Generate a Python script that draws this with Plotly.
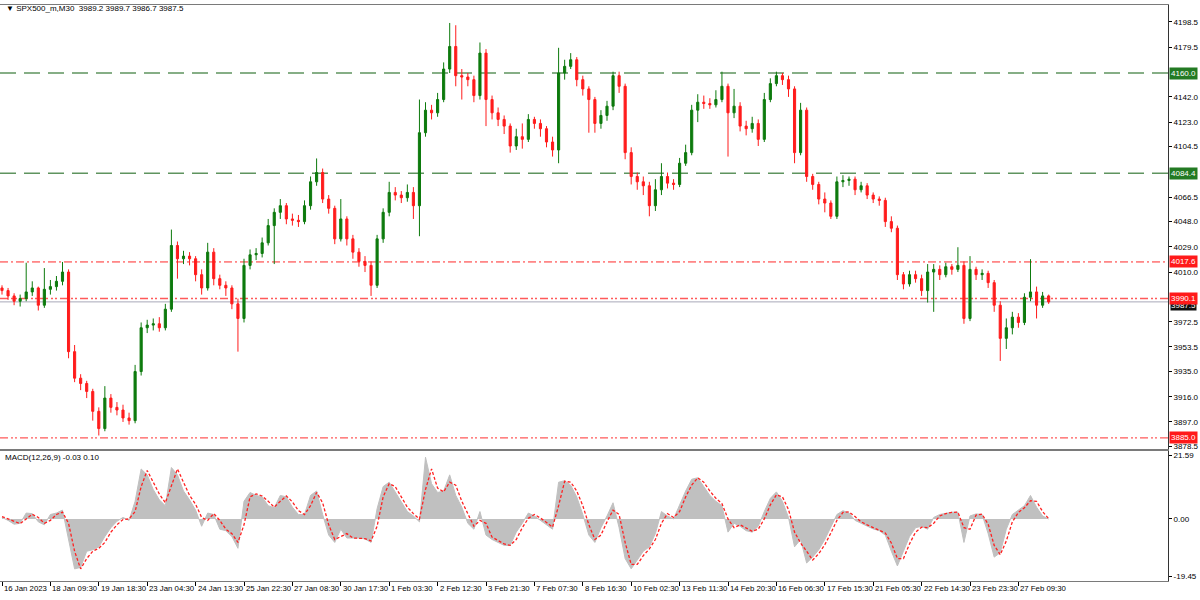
import plotly.graph_objects as go

symbol_title = "\u25BC SPX500_m,M30  3989.2 3989.7 3986.7 3987.5"
macd_title = "MACD(12,26,9) -0.03 0.10"

first_open = 3998
close = [3996, 3992, 3988, 3990, 3995, 3998, 3985, 3997, 3999, 4003,
         4010, 3950, 3930, 3926, 3920, 3905, 3892, 3915, 3908, 3906,
         3900, 3898, 3935, 3968, 3970, 3971, 3968, 3982, 4030, 4020,
         4022, 4020, 4008, 3998, 4025, 4005, 4000, 3998, 3986, 3975,
         4015, 4023, 4024, 4032, 4045, 4055, 4060, 4050, 4049, 4048,
         4060, 4078, 4085, 4065, 4058, 4035, 4050, 4035, 4025, 4018,
         4015, 4000, 4035, 4055, 4070, 4068, 4066, 4070, 4060, 4115,
         4132, 4130, 4140, 4163, 4180, 4158, 4157, 4155, 4143, 4175,
         4140, 4130, 4125, 4120, 4105, 4112, 4110, 4125, 4122, 4118,
         4108, 4102, 4160, 4165, 4170, 4155, 4148, 4140, 4122, 4128,
         4135, 4158, 4150, 4100, 4082, 4078, 4075, 4060, 4072, 4082,
         4077, 4076, 4092, 4100, 4132, 4138, 4137, 4136, 4140, 4150,
         4130, 4135, 4120, 4118, 4122, 4110, 4140, 4152, 4158, 4155,
         4148, 4100, 4132, 4082, 4076, 4065, 4062, 4052, 4078, 4079,
         4080, 4072, 4075, 4068, 4065, 4064, 4048, 4043, 4008, 4001,
         4008, 4005, 3996, 4010, 4012, 4008, 4014, 4012, 4015, 3975,
         4012, 4008, 4009, 4002, 3985, 3960, 3968, 3976, 3972, 3991,
         3995, 3985, 3992, 3987.5]
high = [4000, 3998, 3994, 3993, 4017, 4003, 3999, 4013, 4004, 4007,
        4017.6, 4012, 3955, 3933, 3928, 3922, 3908, 3924, 3918, 3912,
        3910, 3904, 3940, 3972, 3974, 3975, 3976, 3986, 4042, 4033,
        4026, 4025, 4022, 4012, 4032, 4028, 4008, 4003, 4000, 3990,
        4020, 4027, 4028, 4036, 4050, 4058, 4065, 4062, 4054, 4053,
        4064, 4082, 4095.6, 4088, 4068, 4060, 4065, 4052, 4038, 4028,
        4022, 4018, 4038, 4058, 4078, 4074, 4071, 4076, 4074, 4140,
        4138, 4136, 4145, 4168, 4197.7, 4196, 4163, 4160, 4158, 4183,
        4178, 4143, 4134, 4128, 4122, 4118, 4122, 4129, 4127, 4125,
        4120, 4112, 4179, 4170, 4175, 4172, 4158, 4150, 4142, 4132,
        4139, 4161, 4161, 4152, 4104, 4085, 4082, 4078, 4080, 4092,
        4085, 4080, 4096, 4106, 4136, 4144, 4143, 4141, 4147, 4161,
        4152, 4148, 4138, 4124, 4127, 4125, 4145, 4156, 4161, 4160,
        4158, 4150, 4137.5, 4134, 4084, 4078, 4070, 4064, 4082, 4083,
        4082, 4082, 4078, 4077, 4070, 4067, 4066, 4052, 4045, 4010,
        4011, 4011, 4008, 4016, 4016, 4015, 4017, 4016, 4028.7, 4018,
        4022, 4014, 4012, 4011, 4004, 3988, 3975, 3980, 3979, 3994,
        4019.7, 3999, 3995, 3993]
low = [3993, 3989, 3985, 3984, 3988, 3992, 3981, 3983, 3993, 3996,
       4000, 3945, 3927, 3921, 3915, 3898, 3886.8, 3890, 3904, 3902,
       3897, 3895, 3896, 3932, 3964, 3966, 3965, 3966, 3980, 4005,
       4016, 4015, 4003, 3993, 3996, 4000, 3997, 3992, 3982, 3950,
       3972, 4012, 4019, 4021, 4030, 4016, 4050, 4046, 4045, 4044,
       4046, 4057, 4075, 4062, 4054, 4031, 4033, 4030, 4020, 4014,
       4010, 3992, 3998, 4032, 4052, 4064, 4062, 4063, 4050, 4037,
       4112, 4125, 4127, 4138, 4160, 4150, 4140, 4150, 4138, 4140,
       4120, 4125, 4120, 4114, 4100, 4102, 4103, 4108, 4118, 4112,
       4104, 4097, 4092, 4155, 4163, 4150, 4143, 4115, 4115, 4118,
       4124, 4132, 4145, 4095, 4076, 4072, 4068, 4052, 4056, 4068,
       4073, 4072, 4074, 4090, 4098, 4123, 4133, 4133, 4134, 4138,
       4097, 4126, 4116, 4113, 4115, 4105, 4108, 4138, 4150, 4151,
       4142, 4092, 4098, 4078, 4072, 4061, 4055, 4050, 4050, 4074,
       4075, 4068, 4070, 4065, 4062, 4060, 4044, 4040, 4004, 3997,
       3999, 4002, 3992, 3987, 3980, 4004, 4006, 4008, 4010, 3971,
       3973, 4004, 4004, 3998, 3980, 3943, 3952, 3963, 3968, 3970,
       3988, 3975, 3983, 3986]

macd_main = [0.5, -0.5, -1.8, -1.5, 2.0, 1.8, -1.0, -2.0, 1.5, 2.0,
             3.0, -7.0, -17.0, -16.5, -11.0, -10.5, -9.5, -6.0, -3.0, -0.8,
             0.5, -0.5, 6.0, 17.0, 15.0, 10.0, 6.5, 4.5, 17.5, 15.0,
             9.5, 6.5, 3.0, -2.5, 2.0, 1.5, -3.5, -4.0, -6.0, -10.0,
             6.0, 9.0, 8.0, 7.5, 4.5, 3.8, 8.0, 7.5, 4.0, 1.5,
             1.5, 8.0, 9.5, 1.5, -5.5, -8.0, -3.5, -6.5, -6.5, -6.5,
             -6.8, -8.0, 3.5, 11.0, 12.5, 9.0, 5.5, 2.5, 1.0, -1.0,
             21.0, 12.0, 9.0, 9.5, 15.0, 8.0, 4.0, -1.5, -3.5, 2.5,
             -5.5, -7.0, -8.0, -9.0, -9.0, -4.5, -1.5, 2.0, 1.0, -0.5,
             -2.0, -3.5, 12.5, 13.0, 11.5, 7.5, 1.5, -5.5, -8.0, -3.0,
             1.0, 5.5, -3.0, -13.5, -17.0, -14.0, -11.0, -9.5, -5.0, 2.5,
             1.0, 0.0, 5.0, 9.5, 13.5, 14.0, 11.0, 8.0, 6.0, 4.5,
             -4.5, -1.5, -2.5, -4.0, -4.5, -2.5, 2.5, 7.0, 9.2, 6.0,
             0.5, -9.5, -7.0, -15.0, -13.0, -10.5, -7.0, -2.5, 1.5, 2.8,
             2.0, -0.5, -1.5, -2.3, -3.4, -4.0, -5.5, -11.0, -16.0, -11.0,
             -6.0, -3.0, -2.5, -3.5, 0.5, 1.5, 2.0, 2.3, 2.3, -8.0,
             1.0, 1.7, 1.5, -5.0, -13.0, -11.5, -3.5, 1.5, 3.0, 4.5,
             8.0, 4.0, 1.0, -0.03]
macd_signal = [0.8, 0.0, -1.0, -1.6, 0.0, 1.6, 0.5, -1.5, -0.5, 1.5,
               2.3, -1.5, -11.0, -17.0, -13.5, -11.0, -10.0, -8.0, -4.5, -2.0,
               -0.2, 0.0, 2.5, 11.0, 16.5, 12.5, 8.5, 5.5, 11.0, 17.0,
               12.5, 8.0, 5.0, 0.5, -0.5, 1.8, -0.5, -3.5, -5.0, -8.0,
               -2.0, 7.5, 8.5, 7.8, 6.0, 4.0, 6.0, 7.8, 5.8, 2.8,
               1.5, 4.5, 9.0, 5.5, -2.0, -7.0, -6.0, -5.0, -6.5, -6.5,
               -6.7, -7.5, -2.5, 7.5, 12.0, 11.0, 7.5, 4.0, 1.8, 0.0,
               10.0, 17.0, 10.5, 9.2, 12.5, 11.5, 6.0, 1.5, -2.5, -0.5,
               -1.5, -6.2, -7.5, -8.5, -9.0, -7.0, -3.0, 0.2, 1.5, 0.3,
               -1.2, -2.8, 4.5, 12.8, 12.5, 9.5, 4.5, -2.0, -7.0, -5.5,
               -1.0, 3.0, 1.5, -8.0, -15.5, -15.5, -12.5, -10.2, -7.0, -1.5,
               1.8, 0.5, 2.5, 7.5, 11.5, 14.0, 12.5, 9.5, 7.0, 5.2,
               0.0, -3.0, -2.0, -3.2, -4.2, -3.5, 0.0, 4.8, 8.2, 7.5,
               3.2, -4.5, -8.2, -11.0, -14.0, -11.8, -8.8, -4.8, -0.5, 2.2,
               2.4, 0.8, -1.0, -2.0, -2.9, -3.7, -4.8, -8.2, -13.5, -13.5,
               -8.5, -4.5, -2.8, -3.0, -1.5, 1.0, 1.8, 2.2, 2.3, -3.0,
               -3.5, 1.3, 1.6, -1.8, -9.0, -12.2, -7.5, -1.0, 2.2, 3.8,
               6.2, 6.0, 2.5, 0.10]

date_labels = ["16 Jan 2023", "18 Jan 09:30", "19 Jan 18:30", "23 Jan 04:30",
               "24 Jan 13:30", "25 Jan 22:30", "27 Jan 08:30", "30 Jan 17:30",
               "1 Feb 03:30", "2 Feb 12:30", "3 Feb 21:30", "7 Feb 07:30",
               "8 Feb 16:30", "10 Feb 02:30", "13 Feb 11:30", "14 Feb 20:30",
               "16 Feb 06:30", "17 Feb 15:30", "21 Feb 05:30", "22 Feb 14:30",
               "23 Feb 23:30", "27 Feb 09:30"]
bars_per_label = 8

price_ticks = [4198.5, 4179.5, 4142.0, 4123.0, 4104.5, 4066.5, 4048.0, 4029.0,
               4010.0, 3972.5, 3953.5, 3935.0, 3916.0, 3897.0, 3878.5]
macd_ticks = [21.59, 0.00, -19.45]

level_values = [4160.0, 4084.4, 4017.6, 3990.1, 3885.0]
level_kinds = ["green", "green", "red", "red2", "red2"]
current_price = 3987.5

# ---------------------------------------------------------------
n = len(close)
idx = list(range(n))
opens = [first_open] + close[:-1]

W, H = 1200, 600
axis_px = 1168
bar_px = 6.05
x0_px = 2
x_lo = (0 - x0_px) / bar_px
x_hi = (axis_px - x0_px) / bar_px
xdom = [0, axis_px / W]

main_top_px, main_bot_px = 5, 451
macd_top_px, macd_bot_px = 453, 583
y_main_dom = [1 - main_bot_px / H, 1 - main_top_px / H]
y_macd_dom = [1 - macd_bot_px / H, 1 - macd_top_px / H]

ppx = (4198.5 - 3878.5) / (448 - 22)
p_top = 4198.5 + (22 - main_top_px) * ppx
p_bot = 4198.5 - (main_bot_px - 22) * ppx
mpx = (21.59 + 19.45) / (578 - 457)
m_top = 21.59 + (457 - macd_top_px) * mpx
m_bot = -19.45 - (macd_bot_px - 578) * mpx

font_fam = "Liberation Sans, Arial, sans-serif"
fs = 8

fig = go.Figure()
fig.add_trace(go.Candlestick(
    x=idx, open=opens, high=high, low=low, close=close,
    increasing=dict(line=dict(color="#0d7a0d", width=1), fillcolor="#0d7a0d"),
    decreasing=dict(line=dict(color="#ff1c1c", width=1), fillcolor="#ff1c1c"),
    whiskerwidth=0, xaxis="x", yaxis="y", hoverinfo="skip", showlegend=False))

fig.add_trace(go.Scatter(
    x=idx, y=macd_main, mode="lines", fill="tozeroy",
    line=dict(color="#c0c0c0", width=1), fillcolor="#c0c0c0",
    xaxis="x2", yaxis="y2", hoverinfo="skip", showlegend=False))
fig.add_trace(go.Scatter(
    x=idx, y=macd_signal, mode="lines",
    line=dict(color="#ff2020", width=1.3, dash="3px,2px"),
    xaxis="x2", yaxis="y2", hoverinfo="skip", showlegend=False))

shapes = []
styles = {
    "green": dict(color="#5f945f", width=1.6, dash="16px,8px"),
    "red": dict(color="#ff2a2a", width=1, dash="8px,3px,2px,3px"),
    "red2": dict(color="#ff5a5a", width=1.4, dash="8px,3px,2px,2px,2px,3px"),
}
for v, k in zip(level_values, level_kinds):
    shapes.append(dict(type="line", xref="paper", yref="y", x0=0, x1=xdom[1],
                       y0=v, y1=v, line=styles[k], layer="below"))
shapes.append(dict(type="line", xref="paper", yref="y", x0=0, x1=xdom[1],
                   y0=current_price, y1=current_price,
                   line=dict(color="#a8a8b8", width=1), layer="below"))
fig.update_layout(shapes=shapes)

annotations = []
box_col = {"green": "#237a23", "red": "#ff1a1a", "red2": "#ff1a1a"}
annotations.append(dict(xref="paper", yref="y", x=xdom[1], y=current_price,
                        xanchor="left", yanchor="middle", showarrow=False,
                        text="%.1f" % current_price, bgcolor="#101010",
                        font=dict(color="white", size=fs, family=font_fam),
                        borderpad=0, xshift=2, yshift=-4))
for v, k in zip(level_values, level_kinds):
    annotations.append(dict(xref="paper", yref="y", x=xdom[1], y=v,
                            xanchor="left", yanchor="middle", showarrow=False,
                            text="%.1f" % v, bgcolor=box_col[k],
                            font=dict(color="white", size=fs, family=font_fam),
                            borderpad=1, xshift=1))
for j, lab in enumerate(date_labels):
    annotations.append(dict(xref="x2", yref="paper", x=j * bars_per_label,
                            y=1 - 590 / H, xanchor="left", yanchor="middle",
                            showarrow=False, text=lab, xshift=0,
                            font=dict(color="black", size=7.8, family=font_fam)))
annotations.append(dict(xref="paper", yref="paper", x=4 / W, y=1 - 9 / H,
                        xanchor="left", yanchor="middle", showarrow=False,
                        text=symbol_title,
                        font=dict(color="black", size=fs, family=font_fam)))
annotations.append(dict(xref="paper", yref="paper", x=3 / W, y=1 - 459 / H,
                        xanchor="left", yanchor="middle", showarrow=False,
                        text=macd_title,
                        font=dict(color="black", size=fs, family=font_fam)))

tick_pos = [j * bars_per_label for j in range(len(date_labels))]

fig.update_layout(
    width=W, height=H, margin=dict(l=0, r=0, t=0, b=0),
    paper_bgcolor="white", plot_bgcolor="white", boxgap=0.5,
    annotations=annotations, hovermode=False,
    xaxis=dict(domain=xdom, range=[x_lo, x_hi], anchor="y",
               showgrid=False, zeroline=False, showticklabels=False,
               showline=True, mirror=True, linecolor="#7a7a7a", linewidth=1,
               rangeslider=dict(visible=False), fixedrange=True),
    yaxis=dict(domain=y_main_dom, range=[p_bot, p_top], anchor="x",
               side="right", showgrid=False, zeroline=False,
               tickvals=price_ticks, ticktext=["%.1f" % t for t in price_ticks],
               ticks="outside", ticklen=3, tickcolor="black",
               tickfont=dict(color="black", size=fs, family=font_fam),
               showline=True, linecolor="#333333", linewidth=1),
    xaxis2=dict(domain=xdom, range=[x_lo, x_hi], anchor="y2", matches="x",
                showgrid=False, zeroline=False, showticklabels=False,
                tickvals=tick_pos, ticks="outside", ticklen=4, tickcolor="black",
                showline=True, mirror=True, linecolor="#7a7a7a", linewidth=1),
    yaxis2=dict(domain=y_macd_dom, range=[m_bot, m_top], anchor="x2",
                side="right", showgrid=False, zeroline=False,
                tickvals=macd_ticks, ticktext=["%.2f" % t for t in macd_ticks],
                ticks="outside", ticklen=3, tickcolor="black",
                tickfont=dict(color="black", size=fs, family=font_fam),
                showline=True, linecolor="#333333", linewidth=1),
)

fig.write_html("out.html",
               config={"displayModeBar": False},
               post_script="document.body.style.margin='0px';"
                           "document.documentElement.style.overflow='hidden';")
